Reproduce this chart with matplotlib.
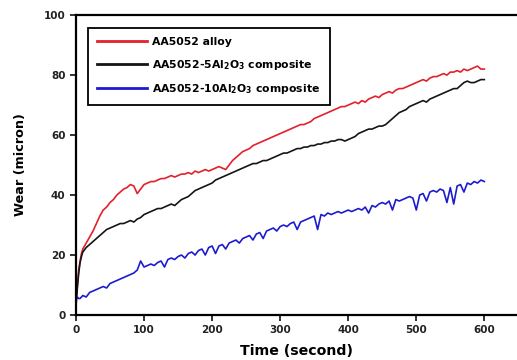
import matplotlib
matplotlib.use("Agg")
import matplotlib.pyplot as plt

plt.rcParams['font.family'] = ['DejaVu Sans']
plt.rcParams['mathtext.fontset'] = 'dejavusans'

# time axis (s)
time = [0, 2, 4, 6, 8] + list(range(10, 605, 5))

# wear readings (micron)
alloy = [4, 10, 15, 18, 20.5,
         22, 24, 26, 28, 30.5, 33, 35, 36, 37.5, 38.5, 40, 41, 42, 42.5, 43.5, 43, 40.5, 42, 43.5, 44,
         44.5, 44.5, 45, 45.5, 45.5, 46, 46.5, 46, 46.5, 47, 47, 47.5, 47, 48, 47.5, 48, 48.5, 48, 48.5,
         49, 49.5, 49, 48.5, 50, 51.5, 52.5, 53.5, 54.5, 55, 55.5, 56.5, 57, 57.5, 58, 58.5, 59, 59.5,
         60, 60.5, 61, 61.5, 62, 62.5, 63, 63.5, 63.5, 64, 64.5, 65.5, 66, 66.5, 67, 67.5, 68, 68.5, 69,
         69.5, 69.5, 70, 70.5, 71, 70.5, 71.5, 71, 72, 72.5, 73, 72.5, 73.5, 74, 74.5, 74, 75, 75.5,
         75.5, 76, 76.5, 77, 77.5, 78, 78.5, 78, 79, 79.5, 79.5, 80, 80.5, 80, 81, 81, 81.5, 81, 82,
         81.5, 82, 82.5, 83, 82, 82]
comp5 = [3, 9, 14, 17.5, 19.5,
         21, 22.5, 23.5, 24.5, 25.5, 26.5, 27.5, 28.5, 29, 29.5, 30, 30.5, 30.5, 31, 31.5, 31, 32, 32.5,
         33.5, 34, 34.5, 35, 35.5, 35.5, 36, 36.5, 37, 36.5, 37.5, 38.5, 39, 39.5, 40.5, 41.5, 42, 42.5,
         43, 43.5, 44, 45, 45.5, 46, 46.5, 47, 47.5, 48, 48.5, 49, 49.5, 50, 50.5, 50.5, 51, 51.5, 51.5,
         52, 52.5, 53, 53.5, 54, 54, 54.5, 55, 55.5, 55.5, 56, 56, 56.5, 56.5, 57, 57, 57.5, 57.5, 58,
         58, 58.5, 58.5, 58, 58.5, 59, 59.5, 60.5, 61, 61.5, 62, 62, 62.5, 63, 63, 63.5, 64.5, 65.5,
         66.5, 67.5, 68, 68.5, 69.5, 70, 70.5, 71, 71.5, 71, 72, 72.5, 73, 73.5, 74, 74.5, 75, 75.5,
         75.5, 76.5, 77.5, 78, 77.5, 77.5, 78, 78.5, 78.5]
comp10 = [5, 6, 5.5, 5.5, 6,
          6.5, 6, 7.5, 8, 8.5, 9, 9.5, 9, 10.5, 11, 11.5, 12, 12.5, 13, 13.5, 14, 15, 18, 16, 16.5, 17,
          16.5, 17.5, 18, 16, 18.5, 19, 18.5, 19.5, 20, 19, 20.5, 21, 20, 21.5, 22, 20, 22.5, 23, 20.5,
          23, 23.5, 22, 24, 24.5, 25, 24, 25.5, 26, 26.5, 25, 27, 27.5, 25.5, 28, 28.5, 29, 28, 29.5,
          30, 29.5, 30.5, 31, 28.5, 31, 31.5, 32, 32.5, 33, 28.5, 33.5, 33, 34, 33.5, 34, 34.5, 34,
          34.5, 35, 34.5, 35, 35.5, 35, 36, 34, 36.5, 36, 37, 37.5, 37, 38, 35, 38.5, 38, 38.5, 39,
          39.5, 39, 35, 40, 40.5, 38, 41, 41.5, 41, 42, 41.5, 37.5, 42.5, 37, 43, 43.5, 41, 44, 43.5,
          44.5, 44, 45, 44.5]

labels = ['AA5052 alloy',
          r'AA5052-5Al$_\mathbf{2}$O$_\mathbf{3}$ composite',
          r'AA5052-10Al$_\mathbf{2}$O$_\mathbf{3}$ composite']
colors = ['#e3202b', '#151515', '#1c1ccf']

fig = plt.figure(figsize=(5.17, 3.6), dpi=100)
ax = fig.add_axes([0.147, 0.125, 0.853, 0.833])

for ys, lab, c in zip([alloy, comp5, comp10], labels, colors):
    ax.plot(time, ys, color=c, lw=1.2, label=lab)

ax.set_xlim(0, 648)
ax.set_ylim(0, 100)
ax.set_xticks([0, 100, 200, 300, 400, 500, 600])
ax.set_yticks([0, 20, 40, 60, 80, 100])
ax.tick_params(direction='out', length=4, width=1.3, labelsize=7.5, colors='#222222')
for lbl in ax.get_xticklabels() + ax.get_yticklabels():
    lbl.set_fontweight('bold')
for side in ['left', 'bottom', 'top']:
    ax.spines[side].set_linewidth(1.6)
ax.spines['right'].set_visible(False)

ax.set_xlabel('Time (second)', fontsize=10.2, fontweight='bold', labelpad=6)
ax.set_ylabel('Wear (micron)', fontsize=9.2, fontweight='bold', labelpad=12)

leg = ax.legend(loc='upper left', bbox_to_anchor=(0.027, 0.957), borderaxespad=0,
                fancybox=False, edgecolor='black', framealpha=1, handlelength=4.6,
                handletextpad=0.5, prop={'weight': 'bold', 'size': 7.8},
                labelspacing=0.95, borderpad=0.85)
leg.get_frame().set_linewidth(1.3)
for line in leg.get_lines():
    line.set_linewidth(2)

fig.savefig('out.png', dpi=100)
